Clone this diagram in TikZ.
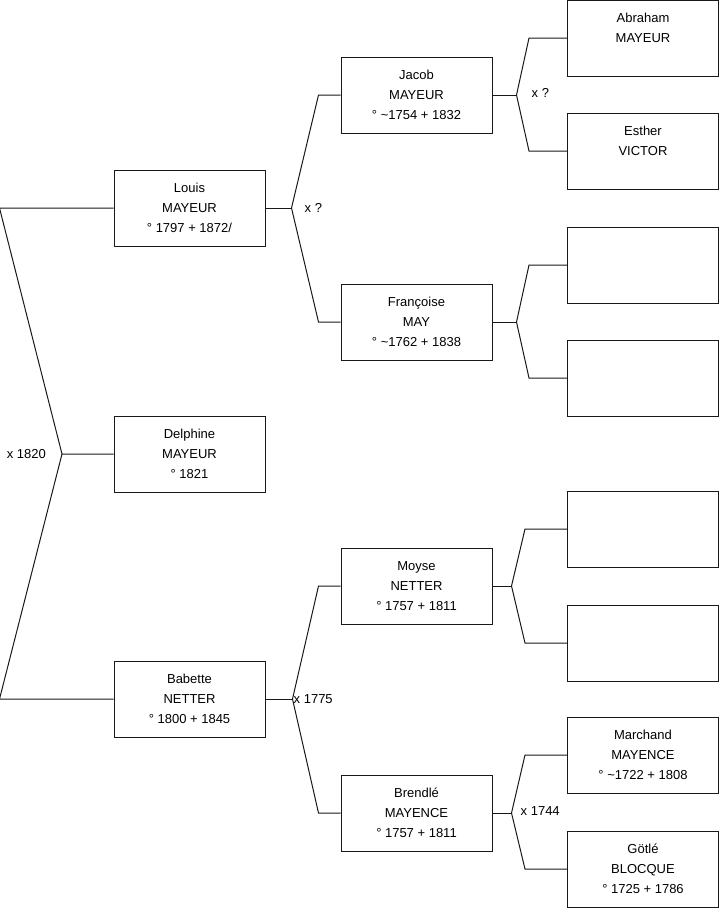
\documentclass[tikz,border=0pt]{standalone}
\usepackage{fontspec}
\setmainfont{Liberation Sans}
\usepackage{tikz}

\tikzset{
  person/.style={draw=black!90, line width=1pt, rectangle, minimum width=151pt, minimum height=76pt,
    inner sep=0pt, align=center, font=\fontsize{13}{20}\selectfont},
  union/.style={inner sep=0pt, font=\fontsize{13}{15}\selectfont},
  link/.style={draw=black!90, line width=1pt}
}

\begin{document}
\begin{tikzpicture}[x=1pt, y=-1pt]
    \useasboundingbox (0,0) rectangle (719,908);

    % generation 1
    \node[person] (louis)    at (189.5,208) {Louis\\MAYEUR\\° 1797 + 1872/};
    \node[person] (delphine) at (189.5,454) {Delphine\\MAYEUR\\° 1821};
    \node[person] (babette)  at (189.5,699) {Babette\\NETTER\\° 1800 + 1845};

    % generation 2
    \node[person] (jacob)    at (416.5,95)  {Jacob\\MAYEUR\\° \textasciitilde 1754 + 1832};
    \node[person] (francoise) at (416.5,322) {Françoise\\MAY\\° \textasciitilde 1762 + 1838};
    \node[person] (moyse)    at (416.5,586) {Moyse\\NETTER\\° 1757 + 1811};
    \node[person] (brendle)  at (416.5,813) {Brendlé\\MAYENCE\\° 1757 + 1811};

    % generation 3
    \node[person] (abraham)  at (643,38)  {Abraham\\MAYEUR\\~};
    \node[person] (esther)   at (643,151) {Esther\\VICTOR\\~};
    \node[person] (emptya)   at (643,265) {};
    \node[person] (emptyb)   at (643,378) {};
    \node[person] (emptyc)   at (643,529) {};
    \node[person] (emptyd)   at (643,643) {};
    \node[person] (marchand) at (643,755) {Marchand\\MAYENCE\\° \textasciitilde 1722 + 1808};
    \node[person] (gotle)    at (643,869) {Götlé\\BLOCQUE\\° 1725 + 1786};

    % Louis x Babette
    \coordinate (x1820) at (62,454);
    \draw[link] (louis.west) -- ++(-114,0) -- (x1820) -- (delphine.west);
    \draw[link] (babette.west) -- ++(-114,0) -- (x1820);
    \node[union, anchor=east] (l1820) at ([xshift=-16pt]x1820) {x 1820};

    % parents of Louis
    \draw[link] (louis.east) -- ++(26,0) coordinate (xlouis);
    \draw[link] (xlouis) -- ([xshift=-22pt]jacob.west) -- (jacob.west);
    \draw[link] (xlouis) -- ([xshift=-22pt]francoise.west) -- (francoise.west);
    \node[union, anchor=west] (llouis) at ([xshift=13pt]xlouis) {x ?};

    % parents of Babette
    \draw[link] (babette.east) -- ++(27,0) coordinate (xbabette);
    \draw[link] (xbabette) -- ([xshift=-22pt]moyse.west) -- (moyse.west);
    \draw[link] (xbabette) -- ([xshift=-22pt]brendle.west) -- (brendle.west);
    \node[union, anchor=west] (l1775) at ([xshift=1pt]xbabette) {x 1775};

    % parents of Jacob
    \draw[link] (jacob.east) -- ++(24,0) coordinate (xjacob);
    \draw[link] (xjacob) -- ([xshift=-38pt]abraham.west) -- (abraham.west);
    \draw[link] (xjacob) -- ([xshift=-38pt]esther.west) -- (esther.west);
    \node[union, anchor=west] (ljacob) at ([xshift=15pt,yshift=2pt]xjacob) {x ?};

    % parents of Françoise
    \draw[link] (francoise.east) -- ++(24,0) coordinate (xfrancoise);
    \draw[link] (xfrancoise) -- ([xshift=-38pt]emptya.west) -- (emptya.west);
    \draw[link] (xfrancoise) -- ([xshift=-38pt]emptyb.west) -- (emptyb.west);

    % parents of Moyse
    \draw[link] (moyse.east) -- ++(19,0) coordinate (xmoyse);
    \draw[link] (xmoyse) -- ([xshift=-42pt]emptyc.west) -- (emptyc.west);
    \draw[link] (xmoyse) -- ([xshift=-42pt]emptyd.west) -- (emptyd.west);

    % parents of Brendlé
    \draw[link] (brendle.east) -- ++(19,0) coordinate (xbrendle);
    \draw[link] (xbrendle) -- ([xshift=-42pt]marchand.west) -- (marchand.west);
    \draw[link] (xbrendle) -- ([xshift=-42pt]gotle.west) -- (gotle.west);
    \node[union, anchor=west] (l1744) at ([xshift=9pt,yshift=2pt]xbrendle) {x 1744};
\end{tikzpicture}
\end{document}
